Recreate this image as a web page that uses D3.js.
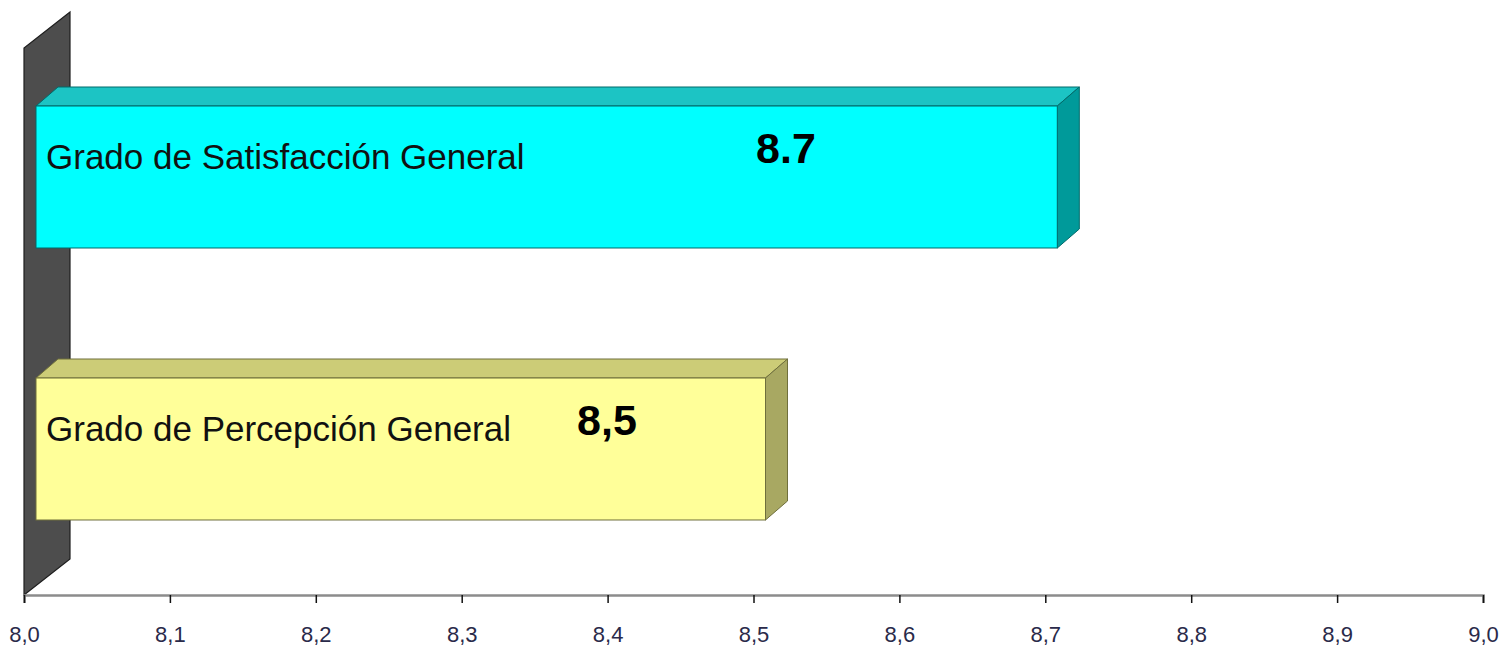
<!DOCTYPE html>
<html>
<head>
<meta charset="utf-8">
<script src="https://cdn.jsdelivr.net/npm/d3@7"></script>
<style>
  html, body { margin: 0; padding: 0; background: #fff; }
  svg { display: block; }
</style>
</head>
<body>
<svg id="chart" width="1510" height="649"></svg>
<script>
// Categories, values and the labels printed on each bar
const categories = ["Grado de Satisfacción General", "Grado de Percepción General"];
const values = [8.7, 8.5];
const valueLabels = ["8.7", "8,5"];
const tickValues = [8.0, 8.1, 8.2, 8.3, 8.4, 8.5, 8.6, 8.7, 8.8, 8.9, 9.0];
const tickLabels = ["8,0", "8,1", "8,2", "8,3", "8,4", "8,5", "8,6", "8,7", "8,8", "8,9", "9,0"];

// Face colours for each bar: front, top, side
const palette = [
  { front: "#00ffff", top: "#1cc4c4", side: "#009a9a", edge: "#006a6a" },
  { front: "#ffff99", top: "#cccc77", side: "#a8a862", edge: "#6f6f3c" }
];

const svg = d3.select("#chart");

const x = d3.scaleLinear().domain([8, 9]).range([24, 1483]);
const y = d3.scaleBand().domain(categories).range([41, 585])
  .paddingInner(0.478).paddingOuter(0.239);

const floorY = 595;
// 3D depth of the whole plot box and of the bars within it
const wallDx = 46, wallDy = -36;
const barFrontDx = 12;
const barDx = 22, barDy = -19;

// Back wall (left side panel)
const wallTop = 48;
svg.append("path")
  .attr("d", `M${x(8)},${floorY} L${x(8)},${wallTop} L${x(8) + wallDx},${wallTop + wallDy} L${x(8) + wallDx},${floorY + wallDy} Z`)
  .attr("fill", "#4d4d4d")
  .attr("stroke", "#1e1e1e")
  .attr("stroke-width", 1.2);

// Bars
const bars = svg.append("g");
categories.forEach((c, i) => {
  const v = values[i];
  const col = palette[i];
  const x0 = x(8) + barFrontDx;
  const x1 = x(v) + barFrontDx;
  const y0 = y(c);
  const y1 = y0 + y.bandwidth();
  const g = bars.append("g");
  // top face
  g.append("path")
    .attr("d", `M${x0},${y0} L${x0 + barDx},${y0 + barDy} L${x1 + barDx},${y0 + barDy} L${x1},${y0} Z`)
    .attr("fill", col.top).attr("stroke", col.edge).attr("stroke-width", 1);
  // side face
  g.append("path")
    .attr("d", `M${x1},${y0} L${x1 + barDx},${y0 + barDy} L${x1 + barDx},${y1 + barDy} L${x1},${y1} Z`)
    .attr("fill", col.side).attr("stroke", col.edge).attr("stroke-width", 1);
  // front face
  g.append("rect")
    .attr("x", x0).attr("y", y0)
    .attr("width", x1 - x0).attr("height", y1 - y0)
    .attr("fill", col.front).attr("stroke", col.edge).attr("stroke-width", 1);

  // category name inside the bar
  g.append("text")
    .attr("x", x0 + 10)
    .attr("y", y0 + 63)
    .attr("font-family", "Liberation Sans, Arial, sans-serif")
    .attr("font-size", 35)
    .attr("fill", "#111")
    .text(c);
});

// Value labels
const labelCenters = [786, 607];
valueLabels.forEach((t, i) => {
  svg.append("text")
    .attr("x", labelCenters[i])
    .attr("y", y(categories[i]) + 57)
    .attr("text-anchor", "middle")
    .attr("font-family", "Liberation Sans, Arial, sans-serif")
    .attr("font-weight", "bold")
    .attr("font-size", 43)
    .attr("fill", "#000")
    .text(t);
});

// Horizontal axis
const axis = d3.axisBottom(x)
  .tickValues(tickValues)
  .tickFormat((d, i) => tickLabels[i])
  .tickSize(8)
  .tickPadding(23);

const ax = svg.append("g")
  .attr("transform", `translate(0,${floorY})`)
  .call(axis);
ax.select(".domain").attr("stroke", "#8c8c8c").attr("stroke-width", 2.5);
ax.selectAll(".tick line").attr("stroke", "#111").attr("stroke-width", 1.5);
ax.selectAll(".tick text")
  .attr("font-family", "Liberation Sans, Arial, sans-serif")
  .attr("font-size", 22)
  .attr("fill", "#2a2a4a");
</script>
</body>
</html>
